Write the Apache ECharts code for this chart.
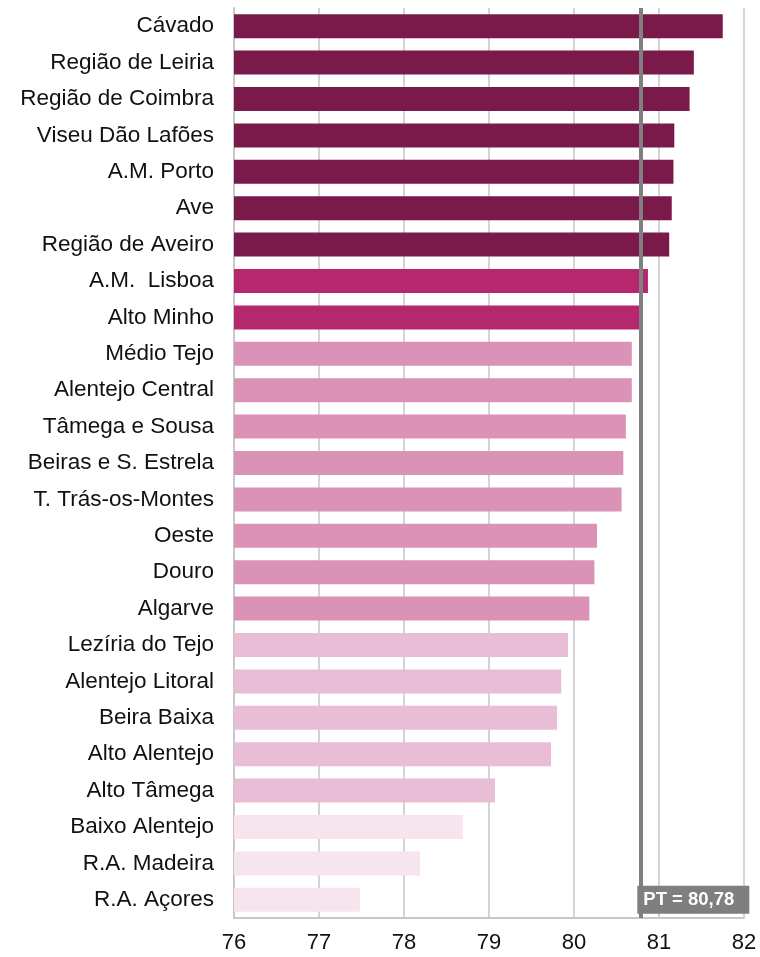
<!DOCTYPE html>
<html>
<head>
<meta charset="utf-8">
<script src="https://cdn.jsdelivr.net/npm/echarts@6/dist/echarts.min.js"></script>
<style>
  html, body { margin: 0; padding: 0; background: #fff; }
  #chart { width: 760px; height: 957px; }
</style>
</head>
<body>
<div id="chart"></div>
<script>
// regions, top to bottom
var regions = ['Cávado', 'Região de Leiria', 'Região de Coimbra', 'Viseu Dão Lafões', 'A.M. Porto', 'Ave',
    'Região de Aveiro', 'A.M.  Lisboa', 'Alto Minho', 'Médio Tejo', 'Alentejo Central', 'Tâmega e Sousa',
    'Beiras e S. Estrela', 'T. Trás-os-Montes', 'Oeste', 'Douro', 'Algarve', 'Lezíria do Tejo',
    'Alentejo Litoral', 'Beira Baixa', 'Alto Alentejo', 'Alto Tâmega', 'Baixo Alentejo', 'R.A. Madeira', 'R.A. Açores'];
var values = [81.75, 81.41, 81.36, 81.18, 81.17, 81.15, 81.12, 80.87, 80.78, 80.68, 80.68, 80.61,
    80.58, 80.56, 80.27, 80.24, 80.18, 79.93, 79.85, 79.80, 79.73, 79.07, 78.69, 78.19, 77.48];
// colour group per bar (0 = darkest)
var groups = [0, 0, 0, 0, 0, 0, 0, 1, 1, 2, 2, 2, 2, 2, 2, 2, 2, 3, 3, 3, 3, 3, 4, 4, 4];
var groupColors = ['#7a1a4a', '#b5286e', '#da92b7', '#e8bdd5', '#f6e4ee'];
var ptValue = 80.78;
var ptLabel = 'PT = 80,78';

var myChart = echarts.init(document.getElementById('chart'));

var barData = values.map(function (v, i) {
    return { value: v, itemStyle: { color: groupColors[groups[i]] } };
});

var option = {
    animation: false,
    grid: { left: 234, right: 16, top: 8, bottom: 39 },
    xAxis: {
        type: 'value',
        min: 76,
        max: 82,
        interval: 1,
        axisLine: { show: true, lineStyle: { color: '#c8c8c8', width: 2 } },
        axisTick: { show: false },
        splitLine: { show: true, lineStyle: { color: '#d4d4d4', width: 2 } },
        axisLabel: { color: '#111', fontSize: 22, fontFamily: 'Liberation Sans', margin: 14 }
    },
    yAxis: {
        type: 'category',
        inverse: true,
        data: regions,
        axisLine: { show: true, lineStyle: { color: '#c8c8c8', width: 2 } },
        axisTick: { show: false },
        axisLabel: {
            color: '#111', fontSize: 22.5, fontFamily: 'Liberation Sans', margin: 20,
            padding: [4, 0, 0, 0]
        }
    },
    series: [
        {
            type: 'bar',
            data: barData,
            barWidth: 24,
            markLine: {
                silent: true,
                symbol: 'none',
                label: { show: false },
                lineStyle: { color: '#808080', width: 4, type: 'solid', opacity: 1 },
                data: [{ xAxis: ptValue }]
            }
        },
        {
            type: 'scatter',
            data: [[ptValue, regions[regions.length - 1]]],
            symbolSize: 0,
            z: 5,
            itemStyle: { opacity: 1 },
            label: {
                show: true,
                position: 'right',
                distance: 0,
                offset: [-3, 0],
                formatter: ptLabel,
                color: '#fff',
                fontWeight: 'bold',
                fontSize: 18.5,
                fontFamily: 'Liberation Sans',
                backgroundColor: '#7f7f7f',
                padding: [5, 15, 4, 6]
            }
        }
    ]
};

myChart.setOption(option);
</script>
</body>
</html>
